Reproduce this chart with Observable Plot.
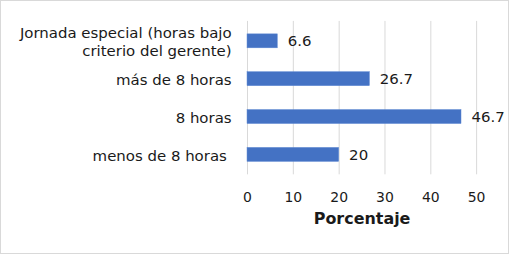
<!DOCTYPE html>
<html>
<head>
<meta charset="utf-8">
<script src="https://cdn.jsdelivr.net/npm/d3@7"></script>
<script src="https://cdn.jsdelivr.net/npm/@observablehq/plot@0.6"></script>
<style>
  html, body { margin: 0; padding: 0; background: #fff; }
  #chart { width: 509px; height: 254px; box-sizing: border-box; border: 1px solid #d9d9d9; position: relative; overflow: hidden; }
  #chart svg { position: absolute; left: -1px; top: -1px; }
</style>
</head>
<body>
<div id="chart"></div>
<script>
const categories = [
  "Jornada especial (horas bajo\ncriterio del gerente)",
  "más de 8 horas",
  "8 horas",
  "menos de 8 horas "
];
const values = [6.6, 26.7, 46.7, 20];
const labels = ["6.6", "26.7", "46.7", "20"];
const xTicks = [0, 10, 20, 30, 40, 50];
const xLabel = "Porcentaje";

const data = categories.map((c, i) => ({category: c, value: values[i], label: labels[i]}));

const chart = Plot.plot({
  width: 509,
  height: 254,
  marginLeft: 248,
  marginRight: 31,
  marginTop: 21,
  marginBottom: 79,
  style: {fontFamily: "DejaVu Sans, sans-serif", fontSize: "14px", color: "#1a1a1a", background: "transparent"},
  x: {domain: [0, 50], ticks: xTicks, label: null},
  y: {domain: categories, paddingInner: 0.636, paddingOuter: 0.318, label: null},
  marks: [
    Plot.gridX(xTicks, {stroke: "#d9d9d9", strokeOpacity: 1}),
    Plot.barX(data, {y: "category", x: "value", fill: "#4472c4", stroke: "#5b86d1", strokeWidth: 0.5}),
    Plot.text(data, {y: "category", x: "value", text: "label", textAnchor: "start", dx: 10, fontSize: 15, fill: "#1a1a1a"}),
    Plot.axisY({tickSize: 0, tickPadding: 16, fontSize: 15, fill: "#1a1a1a", lineHeight: 1.2,
      tickFormat: d => d.replace(/ $/, "\u00a0")}),
    Plot.axisX(xTicks, {tickSize: 0, tickPadding: 17, fontSize: 14, fill: "#1a1a1a", label: null}),
    Plot.text([xLabel], {frameAnchor: "bottom", dy: 49, text: d => d, fontSize: 16, fontWeight: "bold", fill: "#1a1a1a"})
  ]
});
document.getElementById("chart").appendChild(chart);
</script>
</body>
</html>
